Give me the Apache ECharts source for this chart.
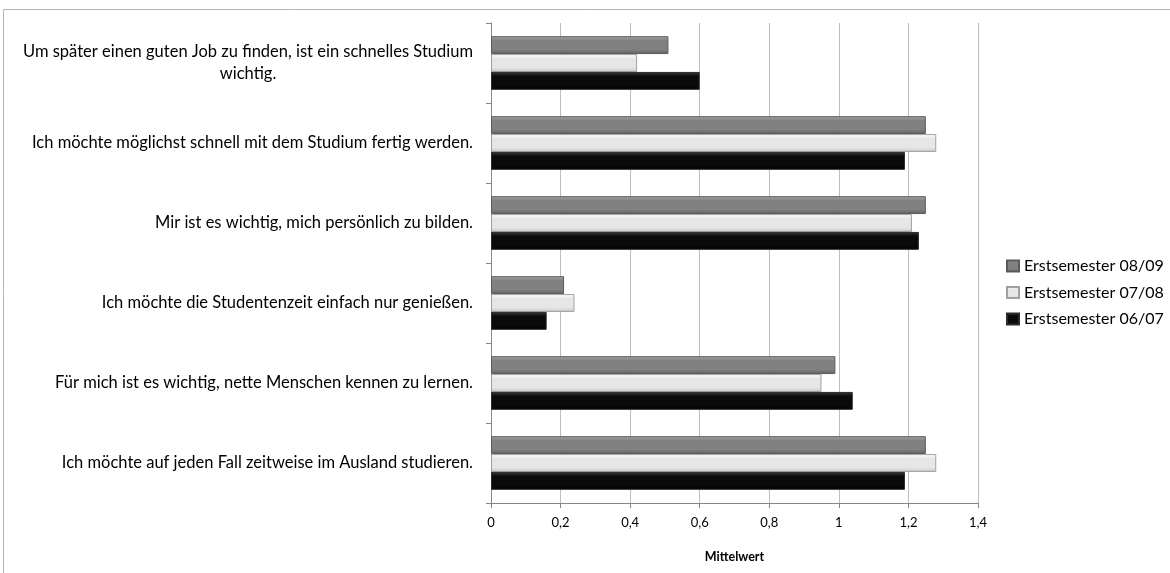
<!DOCTYPE html>
<html>
<head>
<meta charset="utf-8">
<script src="https://cdn.jsdelivr.net/npm/echarts@6/dist/echarts.min.js"></script>
<style>html,body{margin:0;padding:0;background:#fff;}#chart{width:1170px;height:573px;}</style>
</head>
<body>
<div id="chart"></div>
<script>
var categories = [
  "Um später einen guten Job zu finden, ist ein schnelles Studium\nwichtig.",
  "Ich möchte möglichst schnell mit dem Studium fertig werden.",
  "Mir ist es wichtig, mich persönlich zu bilden.",
  "Ich möchte die Studentenzeit einfach nur genießen.",
  "Für mich ist es wichtig, nette Menschen kennen zu lernen.",
  "Ich möchte auf jeden Fall zeitweise im Ausland studieren."
];
var seriesNames = ["Erstsemester 08/09", "Erstsemester 07/08", "Erstsemester 06/07"];
var s0809 = [0.51, 1.25, 1.25, 0.21, 0.99, 1.25];
var s0708 = [0.42, 1.28, 1.21, 0.24, 0.95, 1.28];
var s0607 = [0.60, 1.19, 1.23, 0.16, 1.04, 1.19];
var xTicks = { min: 0, max: 1.4, interval: 0.2 };
var axisName = "Mittelwert";

var FONT = "Lato";
function grad(top, mid, bot) {
  return new echarts.graphic.LinearGradient(0, 0, 0, 1, [
    { offset: 0, color: top }, { offset: 0.25, color: mid },
    { offset: 0.75, color: mid }, { offset: 1, color: bot }
  ]);
}
var styles = [
  { color: grad('#a6a6a6', '#808080', '#606060'), borderColor: '#5a5a5a' },
  { color: grad('#ffffff', '#e6e6e6', '#c8c8c8'), borderColor: '#a0a0a0' },
  { color: grad('#3a3a3a', '#0a0a0a', '#000000'), borderColor: '#2a2a2a' }
];
var values = [s0809, s0708, s0607];

var chart = echarts.init(document.getElementById('chart'), null, { renderer: 'canvas' });
chart.setOption({
  animation: false,
  backgroundColor: '#ffffff',
  graphic: [{
    type: 'rect', z: -10,
    shape: { x: 3.5, y: 9.5, width: 1300, height: 700 },
    style: { fill: 'none', stroke: '#b5b5b5', lineWidth: 1 }
  }],
  grid: { left: 491, right: 192, top: 23, bottom: 70, containLabel: false },
  legend: {
    orient: 'vertical', left: 1001, top: 253,
    itemWidth: 12, itemHeight: 11, itemGap: 10.5,
    icon: 'rect',
    textStyle: { fontFamily: FONT, fontSize: 16, color: '#000' },
    data: seriesNames
  },
  xAxis: {
    type: 'value', min: xTicks.min, max: xTicks.max, interval: xTicks.interval,
    name: axisName, nameLocation: 'middle', nameGap: 47,
    nameTextStyle: { fontFamily: FONT, fontSize: 12.5, fontWeight: 'bold', color: '#000' },
    axisLine: { show: true, lineStyle: { color: '#868686' } },
    axisTick: { show: true, length: 5, lineStyle: { color: '#868686' } },
    axisLabel: {
      fontFamily: FONT, fontSize: 13, color: '#000', margin: 13,
      formatter: function (v) { return String(Math.round(v * 10) / 10).replace('.', ','); }
    },
    splitLine: { show: true, lineStyle: { color: '#bdbdbd', width: 1 } }
  },
  yAxis: {
    type: 'category', data: categories, inverse: true,
    axisLine: { show: true, lineStyle: { color: '#868686' } },
    axisTick: { show: true, length: 5, lineStyle: { color: '#868686' } },
    axisLabel: {
      margin: 18, color: '#000',
      formatter: function (v) {
        return v.split('\n').map(function (l) { return '{c|' + l + '}'; }).join('\n');
      },
      rich: { c: { fontFamily: FONT, fontSize: 16.5, lineHeight: 22, align: 'center', color: '#000' } }
    },
    splitLine: { show: false }
  },
  series: seriesNames.map(function (n, i) {
    return {
      name: n, type: 'bar', data: values[i],
      barGap: '0%', barCategoryGap: '33%',
      itemStyle: { color: styles[i].color, borderColor: styles[i].borderColor, borderWidth: 1 }
    };
  })
});
</script>
</body>
</html>
